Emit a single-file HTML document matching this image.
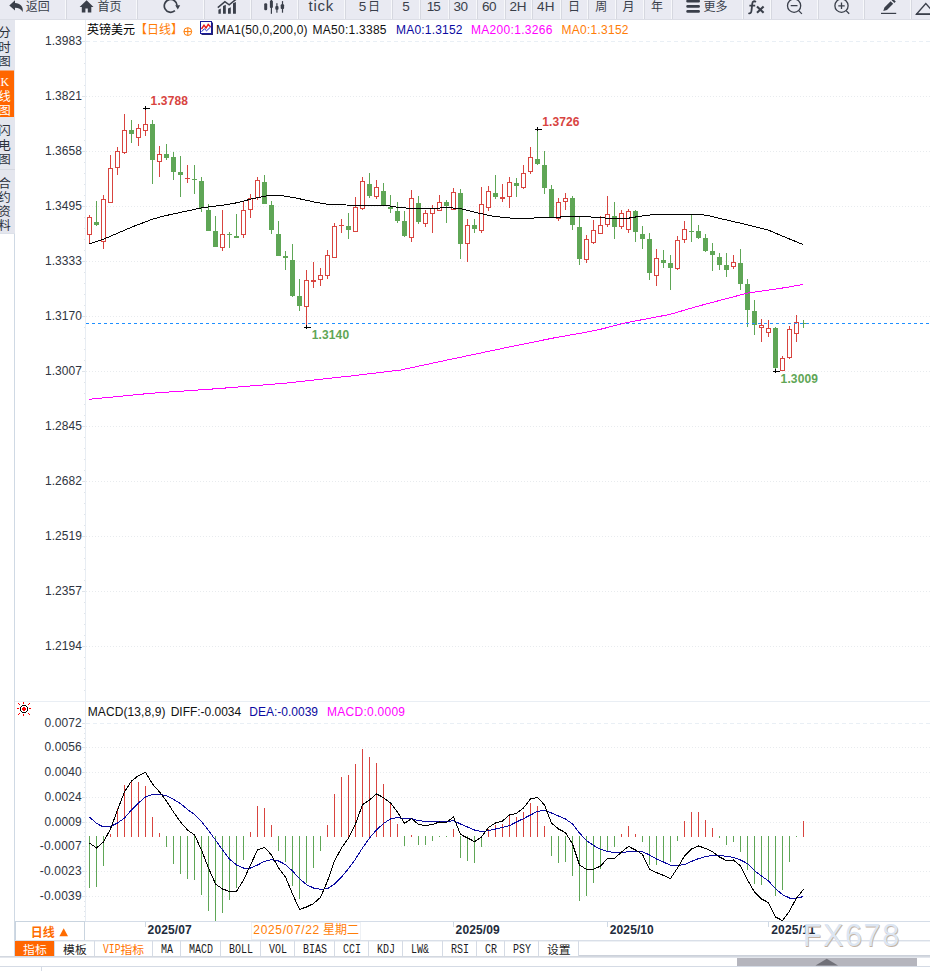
<!DOCTYPE html>
<html lang="zh"><head><meta charset="utf-8"><title>GBPUSD</title>
<style>html,body{margin:0;padding:0;background:#fff;overflow:hidden}svg{display:block}</style>
</head><body>
<svg width="930" height="971" viewBox="0 0 930 971" font-family="'Liberation Sans', sans-serif">
<rect width="930" height="971" fill="#fff"/>
<g shape-rendering="crispEdges"><line x1="86" y1="41.5" x2="930" y2="41.5" stroke="#e9eff5" stroke-dasharray="4 3"/><line x1="86" y1="96.5" x2="930" y2="96.5" stroke="#e8ebee" stroke-dasharray="1 2"/><line x1="86" y1="151.5" x2="930" y2="151.5" stroke="#e8ebee" stroke-dasharray="1 2"/><line x1="86" y1="206.5" x2="930" y2="206.5" stroke="#e8ebee" stroke-dasharray="1 2"/><line x1="86" y1="261.5" x2="930" y2="261.5" stroke="#e8ebee" stroke-dasharray="1 2"/><line x1="86" y1="316.5" x2="930" y2="316.5" stroke="#e8ebee" stroke-dasharray="1 2"/><line x1="86" y1="371.5" x2="930" y2="371.5" stroke="#e8ebee" stroke-dasharray="1 2"/><line x1="86" y1="426.5" x2="930" y2="426.5" stroke="#e8ebee" stroke-dasharray="1 2"/><line x1="86" y1="481.5" x2="930" y2="481.5" stroke="#e8ebee" stroke-dasharray="1 2"/><line x1="86" y1="536.5" x2="930" y2="536.5" stroke="#e8ebee" stroke-dasharray="1 2"/><line x1="86" y1="591.5" x2="930" y2="591.5" stroke="#e8ebee" stroke-dasharray="1 2"/><line x1="86" y1="646.5" x2="930" y2="646.5" stroke="#e8ebee" stroke-dasharray="1 2"/><line x1="86" y1="723.5" x2="930" y2="723.5" stroke="#e9eff5" stroke-dasharray="4 3"/><line x1="86" y1="747.5" x2="930" y2="747.5" stroke="#e8ebee" stroke-dasharray="1 2"/><line x1="86" y1="772.5" x2="930" y2="772.5" stroke="#e8ebee" stroke-dasharray="1 2"/><line x1="86" y1="797.5" x2="930" y2="797.5" stroke="#e8ebee" stroke-dasharray="1 2"/><line x1="86" y1="822.5" x2="930" y2="822.5" stroke="#e8ebee" stroke-dasharray="1 2"/><line x1="86" y1="846.5" x2="930" y2="846.5" stroke="#e8ebee" stroke-dasharray="1 2"/><line x1="86" y1="871.5" x2="930" y2="871.5" stroke="#e8ebee" stroke-dasharray="1 2"/><line x1="86" y1="896.5" x2="930" y2="896.5" stroke="#e8ebee" stroke-dasharray="1 2"/></g>
<g shape-rendering="crispEdges"><line x1="14.5" y1="234" x2="14.5" y2="957" stroke="#cfd9e4"/><line x1="85.5" y1="19" x2="85.5" y2="921" stroke="#e8edf3"/><line x1="15" y1="701.5" x2="930" y2="701.5" stroke="#e9eef4"/><line x1="15" y1="921.5" x2="930" y2="921.5" stroke="#d5dde8"/><line x1="82" y1="41.5" x2="85" y2="41.5" stroke="#dfe4ea"/><line x1="84" y1="52.5" x2="85" y2="52.5" stroke="#dfe4ea"/><line x1="84" y1="63.5" x2="85" y2="63.5" stroke="#dfe4ea"/><line x1="84" y1="74.5" x2="85" y2="74.5" stroke="#dfe4ea"/><line x1="84" y1="85.5" x2="85" y2="85.5" stroke="#dfe4ea"/><line x1="82" y1="96.5" x2="85" y2="96.5" stroke="#dfe4ea"/><line x1="84" y1="107.5" x2="85" y2="107.5" stroke="#dfe4ea"/><line x1="84" y1="118.5" x2="85" y2="118.5" stroke="#dfe4ea"/><line x1="84" y1="129.5" x2="85" y2="129.5" stroke="#dfe4ea"/><line x1="84" y1="140.5" x2="85" y2="140.5" stroke="#dfe4ea"/><line x1="82" y1="151.5" x2="85" y2="151.5" stroke="#dfe4ea"/><line x1="84" y1="162.5" x2="85" y2="162.5" stroke="#dfe4ea"/><line x1="84" y1="173.5" x2="85" y2="173.5" stroke="#dfe4ea"/><line x1="84" y1="184.5" x2="85" y2="184.5" stroke="#dfe4ea"/><line x1="84" y1="195.5" x2="85" y2="195.5" stroke="#dfe4ea"/><line x1="82" y1="206.5" x2="85" y2="206.5" stroke="#dfe4ea"/><line x1="84" y1="217.5" x2="85" y2="217.5" stroke="#dfe4ea"/><line x1="84" y1="228.5" x2="85" y2="228.5" stroke="#dfe4ea"/><line x1="84" y1="239.5" x2="85" y2="239.5" stroke="#dfe4ea"/><line x1="84" y1="250.5" x2="85" y2="250.5" stroke="#dfe4ea"/><line x1="82" y1="261.5" x2="85" y2="261.5" stroke="#dfe4ea"/><line x1="84" y1="272.5" x2="85" y2="272.5" stroke="#dfe4ea"/><line x1="84" y1="283.5" x2="85" y2="283.5" stroke="#dfe4ea"/><line x1="84" y1="294.5" x2="85" y2="294.5" stroke="#dfe4ea"/><line x1="84" y1="305.5" x2="85" y2="305.5" stroke="#dfe4ea"/><line x1="82" y1="316.5" x2="85" y2="316.5" stroke="#dfe4ea"/><line x1="84" y1="327.5" x2="85" y2="327.5" stroke="#dfe4ea"/><line x1="84" y1="338.5" x2="85" y2="338.5" stroke="#dfe4ea"/><line x1="84" y1="349.5" x2="85" y2="349.5" stroke="#dfe4ea"/><line x1="84" y1="360.5" x2="85" y2="360.5" stroke="#dfe4ea"/><line x1="82" y1="371.5" x2="85" y2="371.5" stroke="#dfe4ea"/><line x1="84" y1="382.5" x2="85" y2="382.5" stroke="#dfe4ea"/><line x1="84" y1="393.5" x2="85" y2="393.5" stroke="#dfe4ea"/><line x1="84" y1="404.5" x2="85" y2="404.5" stroke="#dfe4ea"/><line x1="84" y1="415.5" x2="85" y2="415.5" stroke="#dfe4ea"/><line x1="82" y1="426.5" x2="85" y2="426.5" stroke="#dfe4ea"/><line x1="84" y1="437.5" x2="85" y2="437.5" stroke="#dfe4ea"/><line x1="84" y1="448.5" x2="85" y2="448.5" stroke="#dfe4ea"/><line x1="84" y1="459.5" x2="85" y2="459.5" stroke="#dfe4ea"/><line x1="84" y1="470.5" x2="85" y2="470.5" stroke="#dfe4ea"/><line x1="82" y1="481.5" x2="85" y2="481.5" stroke="#dfe4ea"/><line x1="84" y1="492.5" x2="85" y2="492.5" stroke="#dfe4ea"/><line x1="84" y1="503.5" x2="85" y2="503.5" stroke="#dfe4ea"/><line x1="84" y1="514.5" x2="85" y2="514.5" stroke="#dfe4ea"/><line x1="84" y1="525.5" x2="85" y2="525.5" stroke="#dfe4ea"/><line x1="82" y1="536.5" x2="85" y2="536.5" stroke="#dfe4ea"/><line x1="84" y1="547.5" x2="85" y2="547.5" stroke="#dfe4ea"/><line x1="84" y1="558.5" x2="85" y2="558.5" stroke="#dfe4ea"/><line x1="84" y1="569.5" x2="85" y2="569.5" stroke="#dfe4ea"/><line x1="84" y1="580.5" x2="85" y2="580.5" stroke="#dfe4ea"/><line x1="82" y1="591.5" x2="85" y2="591.5" stroke="#dfe4ea"/><line x1="84" y1="602.5" x2="85" y2="602.5" stroke="#dfe4ea"/><line x1="84" y1="613.5" x2="85" y2="613.5" stroke="#dfe4ea"/><line x1="84" y1="624.5" x2="85" y2="624.5" stroke="#dfe4ea"/><line x1="84" y1="635.5" x2="85" y2="635.5" stroke="#dfe4ea"/><line x1="82" y1="646.5" x2="85" y2="646.5" stroke="#dfe4ea"/><line x1="84" y1="657.5" x2="85" y2="657.5" stroke="#dfe4ea"/><line x1="84" y1="668.5" x2="85" y2="668.5" stroke="#dfe4ea"/><line x1="84" y1="679.5" x2="85" y2="679.5" stroke="#dfe4ea"/><line x1="84" y1="690.5" x2="85" y2="690.5" stroke="#dfe4ea"/><line x1="82" y1="723.5" x2="85" y2="723.5" stroke="#dfe4ea"/><line x1="84" y1="728.5" x2="85" y2="728.5" stroke="#dfe4ea"/><line x1="84" y1="733.5" x2="85" y2="733.5" stroke="#dfe4ea"/><line x1="84" y1="738.5" x2="85" y2="738.5" stroke="#dfe4ea"/><line x1="84" y1="742.5" x2="85" y2="742.5" stroke="#dfe4ea"/><line x1="82" y1="747.5" x2="85" y2="747.5" stroke="#dfe4ea"/><line x1="84" y1="752.5" x2="85" y2="752.5" stroke="#dfe4ea"/><line x1="84" y1="757.5" x2="85" y2="757.5" stroke="#dfe4ea"/><line x1="84" y1="762.5" x2="85" y2="762.5" stroke="#dfe4ea"/><line x1="84" y1="767.5" x2="85" y2="767.5" stroke="#dfe4ea"/><line x1="82" y1="772.5" x2="85" y2="772.5" stroke="#dfe4ea"/><line x1="84" y1="777.5" x2="85" y2="777.5" stroke="#dfe4ea"/><line x1="84" y1="782.5" x2="85" y2="782.5" stroke="#dfe4ea"/><line x1="84" y1="787.5" x2="85" y2="787.5" stroke="#dfe4ea"/><line x1="84" y1="792.5" x2="85" y2="792.5" stroke="#dfe4ea"/><line x1="82" y1="797.5" x2="85" y2="797.5" stroke="#dfe4ea"/><line x1="84" y1="802.5" x2="85" y2="802.5" stroke="#dfe4ea"/><line x1="84" y1="807.5" x2="85" y2="807.5" stroke="#dfe4ea"/><line x1="84" y1="812.5" x2="85" y2="812.5" stroke="#dfe4ea"/><line x1="84" y1="817.5" x2="85" y2="817.5" stroke="#dfe4ea"/><line x1="82" y1="822.5" x2="85" y2="822.5" stroke="#dfe4ea"/><line x1="84" y1="827.5" x2="85" y2="827.5" stroke="#dfe4ea"/><line x1="84" y1="832.5" x2="85" y2="832.5" stroke="#dfe4ea"/><line x1="84" y1="836.5" x2="85" y2="836.5" stroke="#dfe4ea"/><line x1="84" y1="841.5" x2="85" y2="841.5" stroke="#dfe4ea"/><line x1="82" y1="846.5" x2="85" y2="846.5" stroke="#dfe4ea"/><line x1="84" y1="851.5" x2="85" y2="851.5" stroke="#dfe4ea"/><line x1="84" y1="856.5" x2="85" y2="856.5" stroke="#dfe4ea"/><line x1="84" y1="861.5" x2="85" y2="861.5" stroke="#dfe4ea"/><line x1="84" y1="866.5" x2="85" y2="866.5" stroke="#dfe4ea"/><line x1="82" y1="871.5" x2="85" y2="871.5" stroke="#dfe4ea"/><line x1="84" y1="876.5" x2="85" y2="876.5" stroke="#dfe4ea"/><line x1="84" y1="881.5" x2="85" y2="881.5" stroke="#dfe4ea"/><line x1="84" y1="886.5" x2="85" y2="886.5" stroke="#dfe4ea"/><line x1="84" y1="891.5" x2="85" y2="891.5" stroke="#dfe4ea"/><line x1="82" y1="896.5" x2="85" y2="896.5" stroke="#dfe4ea"/><line x1="84" y1="901.5" x2="85" y2="901.5" stroke="#dfe4ea"/><line x1="84" y1="906.5" x2="85" y2="906.5" stroke="#dfe4ea"/><line x1="84" y1="911.5" x2="85" y2="911.5" stroke="#dfe4ea"/><line x1="84" y1="916.5" x2="85" y2="916.5" stroke="#dfe4ea"/></g>
<g shape-rendering="crispEdges"><rect x="89" y="215" width="1" height="29" fill="#d8443f"/><rect x="87.5" y="217.5" width="4" height="17" fill="#fff" stroke="#d8443f"/><rect x="96" y="201" width="1" height="25" fill="#5fa656"/><rect x="94" y="222" width="5" height="3" fill="#5fa656"/><rect x="103" y="195" width="1" height="54" fill="#d8443f"/><rect x="101.5" y="199.5" width="4" height="42" fill="#fff" stroke="#d8443f"/><rect x="110" y="155" width="1" height="48" fill="#d8443f"/><rect x="108.5" y="168.5" width="4" height="34" fill="#fff" stroke="#d8443f"/><rect x="117" y="147" width="1" height="28" fill="#d8443f"/><rect x="115.5" y="151.5" width="4" height="16" fill="#fff" stroke="#d8443f"/><rect x="124" y="114" width="1" height="40" fill="#d8443f"/><rect x="122.5" y="130.5" width="4" height="22" fill="#fff" stroke="#d8443f"/><rect x="131" y="120" width="1" height="23" fill="#5fa656"/><rect x="129" y="130" width="5" height="4" fill="#5fa656"/><rect x="138" y="124" width="1" height="22" fill="#d8443f"/><rect x="136.5" y="128.5" width="4" height="9" fill="#fff" stroke="#d8443f"/><rect x="145" y="108" width="1" height="28" fill="#d8443f"/><rect x="143.5" y="124.5" width="4" height="6" fill="#fff" stroke="#d8443f"/><rect x="152" y="120" width="1" height="64" fill="#5fa656"/><rect x="150" y="124" width="5" height="36" fill="#5fa656"/><rect x="159" y="146" width="1" height="31" fill="#d8443f"/><rect x="157.5" y="154.5" width="4" height="7" fill="#fff" stroke="#d8443f"/><rect x="166" y="144" width="1" height="16" fill="#5fa656"/><rect x="164" y="154" width="5" height="4" fill="#5fa656"/><rect x="173" y="152" width="1" height="28" fill="#5fa656"/><rect x="171" y="157" width="5" height="15" fill="#5fa656"/><rect x="180" y="156" width="1" height="41" fill="#5fa656"/><rect x="178" y="172" width="5" height="3" fill="#5fa656"/><rect x="187" y="165" width="1" height="18" fill="#d8443f"/><rect x="185" y="178" width="5" height="1" fill="#d8443f"/><rect x="194" y="165" width="1" height="29" fill="#5fa656"/><rect x="192" y="179" width="5" height="1" fill="#5fa656"/><rect x="201" y="177" width="1" height="35" fill="#5fa656"/><rect x="199" y="181" width="5" height="27" fill="#5fa656"/><rect x="208" y="204" width="1" height="27" fill="#5fa656"/><rect x="206" y="210" width="5" height="21" fill="#5fa656"/><rect x="215" y="216" width="1" height="31" fill="#5fa656"/><rect x="213" y="231" width="5" height="16" fill="#5fa656"/><rect x="222" y="210" width="1" height="41" fill="#d8443f"/><rect x="220.5" y="234.5" width="4" height="13" fill="#fff" stroke="#d8443f"/><rect x="229" y="232" width="1" height="16" fill="#5fa656"/><rect x="227" y="234" width="5" height="1" fill="#5fa656"/><rect x="236" y="214" width="1" height="24" fill="#5fa656"/><rect x="234" y="236" width="5" height="2" fill="#5fa656"/><rect x="243" y="202" width="1" height="36" fill="#d8443f"/><rect x="241.5" y="210.5" width="4" height="24" fill="#fff" stroke="#d8443f"/><rect x="250" y="194" width="1" height="24" fill="#d8443f"/><rect x="248.5" y="198.5" width="4" height="11" fill="#fff" stroke="#d8443f"/><rect x="257" y="177" width="1" height="23" fill="#d8443f"/><rect x="255.5" y="180.5" width="4" height="17" fill="#fff" stroke="#d8443f"/><rect x="264" y="175" width="1" height="29" fill="#5fa656"/><rect x="262" y="182" width="5" height="22" fill="#5fa656"/><rect x="271" y="201" width="1" height="33" fill="#5fa656"/><rect x="269" y="205" width="5" height="25" fill="#5fa656"/><rect x="278" y="221" width="1" height="35" fill="#5fa656"/><rect x="276" y="234" width="5" height="22" fill="#5fa656"/><rect x="285" y="251" width="1" height="19" fill="#5fa656"/><rect x="283" y="256" width="5" height="2" fill="#5fa656"/><rect x="292" y="244" width="1" height="53" fill="#5fa656"/><rect x="290" y="260" width="5" height="36" fill="#5fa656"/><rect x="299" y="279" width="1" height="32" fill="#5fa656"/><rect x="297" y="296" width="5" height="10" fill="#5fa656"/><rect x="306" y="270" width="1" height="57" fill="#d8443f"/><rect x="304.5" y="280.5" width="4" height="26" fill="#fff" stroke="#d8443f"/><rect x="313" y="262" width="1" height="26" fill="#d8443f"/><rect x="311.5" y="280.5" width="4" height="1" fill="#fff" stroke="#d8443f"/><rect x="320" y="268" width="1" height="18" fill="#d8443f"/><rect x="318.5" y="275.5" width="4" height="4" fill="#fff" stroke="#d8443f"/><rect x="327" y="250" width="1" height="29" fill="#d8443f"/><rect x="325.5" y="255.5" width="4" height="20" fill="#fff" stroke="#d8443f"/><rect x="334" y="223" width="1" height="35" fill="#d8443f"/><rect x="332.5" y="226.5" width="4" height="31" fill="#fff" stroke="#d8443f"/><rect x="341" y="219" width="1" height="14" fill="#d8443f"/><rect x="339" y="225" width="5" height="1" fill="#d8443f"/><rect x="348" y="213" width="1" height="26" fill="#5fa656"/><rect x="346" y="226" width="5" height="4" fill="#5fa656"/><rect x="355" y="197" width="1" height="35" fill="#d8443f"/><rect x="353.5" y="207.5" width="4" height="24" fill="#fff" stroke="#d8443f"/><rect x="362" y="177" width="1" height="33" fill="#d8443f"/><rect x="360.5" y="181.5" width="4" height="27" fill="#fff" stroke="#d8443f"/><rect x="369" y="173" width="1" height="25" fill="#5fa656"/><rect x="367" y="184" width="5" height="12" fill="#5fa656"/><rect x="376" y="180" width="1" height="19" fill="#d8443f"/><rect x="374.5" y="187.5" width="4" height="9" fill="#fff" stroke="#d8443f"/><rect x="383" y="183" width="1" height="22" fill="#5fa656"/><rect x="381" y="191" width="5" height="14" fill="#5fa656"/><rect x="390" y="195" width="1" height="18" fill="#5fa656"/><rect x="388" y="207" width="5" height="2" fill="#5fa656"/><rect x="397" y="202" width="1" height="21" fill="#5fa656"/><rect x="395" y="211" width="5" height="10" fill="#5fa656"/><rect x="404" y="211" width="1" height="26" fill="#5fa656"/><rect x="402" y="221" width="5" height="15" fill="#5fa656"/><rect x="411" y="190" width="1" height="52" fill="#d8443f"/><rect x="409.5" y="198.5" width="4" height="39" fill="#fff" stroke="#d8443f"/><rect x="418" y="196" width="1" height="28" fill="#5fa656"/><rect x="416" y="203" width="5" height="19" fill="#5fa656"/><rect x="425" y="210" width="1" height="17" fill="#d8443f"/><rect x="423.5" y="213.5" width="4" height="10" fill="#fff" stroke="#d8443f"/><rect x="432" y="205" width="1" height="28" fill="#d8443f"/><rect x="430.5" y="208.5" width="4" height="5" fill="#fff" stroke="#d8443f"/><rect x="439" y="195" width="1" height="16" fill="#d8443f"/><rect x="437.5" y="202.5" width="4" height="8" fill="#fff" stroke="#d8443f"/><rect x="446" y="200" width="1" height="23" fill="#5fa656"/><rect x="444" y="202" width="5" height="4" fill="#5fa656"/><rect x="453" y="188" width="1" height="22" fill="#d8443f"/><rect x="451.5" y="192.5" width="4" height="17" fill="#fff" stroke="#d8443f"/><rect x="460" y="189" width="1" height="70" fill="#5fa656"/><rect x="458" y="193" width="5" height="51" fill="#5fa656"/><rect x="467" y="219" width="1" height="43" fill="#d8443f"/><rect x="465.5" y="225.5" width="4" height="18" fill="#fff" stroke="#d8443f"/><rect x="474" y="219" width="1" height="14" fill="#5fa656"/><rect x="472" y="225" width="5" height="4" fill="#5fa656"/><rect x="481" y="187" width="1" height="46" fill="#d8443f"/><rect x="479.5" y="204.5" width="4" height="26" fill="#fff" stroke="#d8443f"/><rect x="488" y="186" width="1" height="25" fill="#d8443f"/><rect x="486.5" y="191.5" width="4" height="16" fill="#fff" stroke="#d8443f"/><rect x="495" y="175" width="1" height="24" fill="#5fa656"/><rect x="493" y="193" width="5" height="4" fill="#5fa656"/><rect x="502" y="184" width="1" height="18" fill="#d8443f"/><rect x="500.5" y="197.5" width="4" height="1" fill="#fff" stroke="#d8443f"/><rect x="509" y="177" width="1" height="31" fill="#d8443f"/><rect x="507.5" y="182.5" width="4" height="14" fill="#fff" stroke="#d8443f"/><rect x="516" y="178" width="1" height="19" fill="#5fa656"/><rect x="514" y="183" width="5" height="3" fill="#5fa656"/><rect x="523" y="165" width="1" height="24" fill="#d8443f"/><rect x="521.5" y="173.5" width="4" height="14" fill="#fff" stroke="#d8443f"/><rect x="530" y="147" width="1" height="27" fill="#d8443f"/><rect x="528.5" y="157.5" width="4" height="14" fill="#fff" stroke="#d8443f"/><rect x="537" y="129" width="1" height="36" fill="#5fa656"/><rect x="535" y="159" width="5" height="5" fill="#5fa656"/><rect x="544" y="151" width="1" height="43" fill="#5fa656"/><rect x="542" y="165" width="5" height="23" fill="#5fa656"/><rect x="551" y="185" width="1" height="33" fill="#5fa656"/><rect x="549" y="189" width="5" height="28" fill="#5fa656"/><rect x="558" y="198" width="1" height="23" fill="#d8443f"/><rect x="556.5" y="202.5" width="4" height="16" fill="#fff" stroke="#d8443f"/><rect x="565" y="193" width="1" height="17" fill="#d8443f"/><rect x="563.5" y="198.5" width="4" height="3" fill="#fff" stroke="#d8443f"/><rect x="572" y="196" width="1" height="34" fill="#5fa656"/><rect x="570" y="198" width="5" height="27" fill="#5fa656"/><rect x="579" y="217" width="1" height="48" fill="#5fa656"/><rect x="577" y="227" width="5" height="32" fill="#5fa656"/><rect x="586" y="235" width="1" height="28" fill="#d8443f"/><rect x="584.5" y="239.5" width="4" height="20" fill="#fff" stroke="#d8443f"/><rect x="593" y="220" width="1" height="24" fill="#d8443f"/><rect x="591.5" y="230.5" width="4" height="12" fill="#fff" stroke="#d8443f"/><rect x="600" y="216" width="1" height="18" fill="#d8443f"/><rect x="598.5" y="225.5" width="4" height="8" fill="#fff" stroke="#d8443f"/><rect x="607" y="196" width="1" height="31" fill="#d8443f"/><rect x="605.5" y="214.5" width="4" height="10" fill="#fff" stroke="#d8443f"/><rect x="614" y="202" width="1" height="37" fill="#5fa656"/><rect x="612" y="216" width="5" height="11" fill="#5fa656"/><rect x="621" y="210" width="1" height="19" fill="#d8443f"/><rect x="619.5" y="213.5" width="4" height="13" fill="#fff" stroke="#d8443f"/><rect x="628" y="209" width="1" height="24" fill="#d8443f"/><rect x="626.5" y="211.5" width="4" height="18" fill="#fff" stroke="#d8443f"/><rect x="635" y="210" width="1" height="32" fill="#5fa656"/><rect x="633" y="211" width="5" height="21" fill="#5fa656"/><rect x="642" y="226" width="1" height="23" fill="#5fa656"/><rect x="640" y="234" width="5" height="5" fill="#5fa656"/><rect x="649" y="233" width="1" height="47" fill="#5fa656"/><rect x="647" y="239" width="5" height="34" fill="#5fa656"/><rect x="656" y="249" width="1" height="37" fill="#d8443f"/><rect x="654.5" y="258.5" width="4" height="17" fill="#fff" stroke="#d8443f"/><rect x="663" y="250" width="1" height="18" fill="#5fa656"/><rect x="661" y="260" width="5" height="3" fill="#5fa656"/><rect x="670" y="255" width="1" height="35" fill="#5fa656"/><rect x="668" y="263" width="5" height="5" fill="#5fa656"/><rect x="677" y="236" width="1" height="34" fill="#d8443f"/><rect x="675.5" y="240.5" width="4" height="28" fill="#fff" stroke="#d8443f"/><rect x="684" y="221" width="1" height="22" fill="#d8443f"/><rect x="682.5" y="229.5" width="4" height="10" fill="#fff" stroke="#d8443f"/><rect x="691" y="215" width="1" height="27" fill="#5fa656"/><rect x="689" y="231" width="5" height="1" fill="#5fa656"/><rect x="698" y="225" width="1" height="14" fill="#5fa656"/><rect x="696" y="231" width="5" height="7" fill="#5fa656"/><rect x="705" y="234" width="1" height="18" fill="#5fa656"/><rect x="703" y="238" width="5" height="13" fill="#5fa656"/><rect x="712" y="243" width="1" height="28" fill="#5fa656"/><rect x="710" y="251" width="5" height="4" fill="#5fa656"/><rect x="719" y="253" width="1" height="17" fill="#5fa656"/><rect x="717" y="257" width="5" height="8" fill="#5fa656"/><rect x="726" y="253" width="1" height="24" fill="#5fa656"/><rect x="724" y="265" width="5" height="5" fill="#5fa656"/><rect x="733" y="255" width="1" height="14" fill="#d8443f"/><rect x="731.5" y="262.5" width="4" height="4" fill="#fff" stroke="#d8443f"/><rect x="740" y="249" width="1" height="41" fill="#5fa656"/><rect x="738" y="263" width="5" height="21" fill="#5fa656"/><rect x="747" y="279" width="1" height="48" fill="#5fa656"/><rect x="745" y="284" width="5" height="26" fill="#5fa656"/><rect x="754" y="300" width="1" height="35" fill="#5fa656"/><rect x="752" y="311" width="5" height="14" fill="#5fa656"/><rect x="761" y="319" width="1" height="23" fill="#d8443f"/><rect x="759.5" y="325.5" width="4" height="2" fill="#fff" stroke="#d8443f"/><rect x="768" y="320" width="1" height="17" fill="#d8443f"/><rect x="766.5" y="328.5" width="4" height="4" fill="#fff" stroke="#d8443f"/><rect x="775" y="327" width="1" height="45" fill="#5fa656"/><rect x="773" y="328" width="5" height="40" fill="#5fa656"/><rect x="782" y="356" width="1" height="15" fill="#d8443f"/><rect x="780.5" y="358.5" width="4" height="12" fill="#fff" stroke="#d8443f"/><rect x="789" y="326" width="1" height="33" fill="#d8443f"/><rect x="787.5" y="329.5" width="4" height="28" fill="#fff" stroke="#d8443f"/><rect x="796" y="315" width="1" height="27" fill="#d8443f"/><rect x="794.5" y="322.5" width="4" height="11" fill="#fff" stroke="#d8443f"/><rect x="803" y="320" width="1" height="8" fill="#5fa656"/><rect x="801" y="323" width="5" height="1" fill="#5fa656"/></g>
<g shape-rendering="crispEdges"><rect x="143" y="108" width="7" height="1" fill="#000"/><rect x="145" y="106" width="1" height="4" fill="#000"/><rect x="535" y="129" width="7" height="1" fill="#000"/><rect x="537" y="127" width="1" height="4" fill="#000"/><rect x="304" y="327" width="7" height="1" fill="#000"/><rect x="306" y="325" width="1" height="4" fill="#000"/><rect x="773" y="371" width="7" height="1" fill="#000"/><rect x="775" y="369" width="1" height="4" fill="#000"/></g>
<line x1="86" y1="323.5" x2="930" y2="323.5" stroke="#1e8fff" stroke-dasharray="3 3" shape-rendering="crispEdges"/>
<polyline fill="none" stroke="#000" stroke-width="1" shape-rendering="crispEdges" points="89,244 104,239 118,233 132,227 153,219 164,216 180,212.5 202,207.8 208.5,206.9 221,205.5 233.4,203.5 244,201 251,199 256,198 268,195.6 282,195.6 296,198 316,202.4 326,204 346,205 366,205.4 386,205.4 396,207 416,209 428,208.6 448,207.6 460,208.6 478,213 494,216.4 514,218.4 533,218.5 536,217.2 560,217.1 564,216.4 589,216.4 592,217.5 604,217.6 607,218.6 626,218.6 638,216.6 654,214.4 700,214.4 710,216 723,219.2 745,224.2 768,230 790,239.2 803,244.5"/>
<polyline fill="none" stroke="#ff00ff" stroke-width="1" shape-rendering="crispEdges" points="89,399.3 150.7,393.3 217,388.7 284,383.3 350.7,376 384,372 400.7,370 450.7,359.3 517.3,345.3 557,337.3 584,332.7 600,329.4 624,323.3 630,322 670,314.4 694,307.3 710,303 748,293 786,287.5 803,284.5"/>
<g shape-rendering="crispEdges"><rect x="89" y="836" width="1" height="52" fill="#5fa656"/><rect x="96" y="836" width="1" height="51" fill="#5fa656"/><rect x="103" y="836" width="1" height="30" fill="#5fa656"/><rect x="110" y="834" width="1" height="3" fill="#d8443f"/><rect x="117" y="808" width="1" height="29" fill="#d8443f"/><rect x="124" y="785" width="1" height="52" fill="#d8443f"/><rect x="131" y="781" width="1" height="56" fill="#d8443f"/><rect x="138" y="782" width="1" height="55" fill="#d8443f"/><rect x="145" y="786" width="1" height="51" fill="#d8443f"/><rect x="152" y="817" width="1" height="20" fill="#d8443f"/><rect x="159" y="833" width="1" height="4" fill="#d8443f"/><rect x="166" y="836" width="1" height="11" fill="#5fa656"/><rect x="173" y="836" width="1" height="28" fill="#5fa656"/><rect x="180" y="836" width="1" height="38" fill="#5fa656"/><rect x="187" y="836" width="1" height="43" fill="#5fa656"/><rect x="194" y="836" width="1" height="44" fill="#5fa656"/><rect x="201" y="836" width="1" height="59" fill="#5fa656"/><rect x="208" y="836" width="1" height="75" fill="#5fa656"/><rect x="215" y="836" width="1" height="85" fill="#5fa656"/><rect x="222" y="836" width="1" height="77" fill="#5fa656"/><rect x="229" y="836" width="1" height="64" fill="#5fa656"/><rect x="236" y="836" width="1" height="52" fill="#5fa656"/><rect x="243" y="836" width="1" height="24" fill="#5fa656"/><rect x="250" y="832" width="1" height="5" fill="#d8443f"/><rect x="257" y="806" width="1" height="31" fill="#d8443f"/><rect x="264" y="808" width="1" height="29" fill="#d8443f"/><rect x="271" y="825" width="1" height="12" fill="#d8443f"/><rect x="278" y="836" width="1" height="15" fill="#5fa656"/><rect x="285" y="836" width="1" height="26" fill="#5fa656"/><rect x="292" y="836" width="1" height="50" fill="#5fa656"/><rect x="299" y="836" width="1" height="63" fill="#5fa656"/><rect x="306" y="836" width="1" height="47" fill="#5fa656"/><rect x="313" y="836" width="1" height="32" fill="#5fa656"/><rect x="320" y="836" width="1" height="15" fill="#5fa656"/><rect x="327" y="825" width="1" height="12" fill="#d8443f"/><rect x="334" y="794" width="1" height="43" fill="#d8443f"/><rect x="341" y="777" width="1" height="60" fill="#d8443f"/><rect x="348" y="775" width="1" height="62" fill="#d8443f"/><rect x="355" y="764" width="1" height="73" fill="#d8443f"/><rect x="362" y="749" width="1" height="88" fill="#d8443f"/><rect x="369" y="757" width="1" height="80" fill="#d8443f"/><rect x="376" y="763" width="1" height="74" fill="#d8443f"/><rect x="383" y="784" width="1" height="53" fill="#d8443f"/><rect x="390" y="803" width="1" height="34" fill="#d8443f"/><rect x="397" y="824" width="1" height="13" fill="#d8443f"/><rect x="404" y="836" width="1" height="10" fill="#5fa656"/><rect x="411" y="835" width="1" height="2" fill="#d8443f"/><rect x="418" y="836" width="1" height="9" fill="#5fa656"/><rect x="425" y="836" width="1" height="9" fill="#5fa656"/><rect x="432" y="836" width="1" height="5" fill="#5fa656"/><rect x="439" y="836" width="1" height="1" fill="#5fa656"/><rect x="446" y="836" width="1" height="1" fill="#5fa656"/><rect x="453" y="829" width="1" height="8" fill="#d8443f"/><rect x="460" y="836" width="1" height="22" fill="#5fa656"/><rect x="467" y="836" width="1" height="25" fill="#5fa656"/><rect x="474" y="836" width="1" height="27" fill="#5fa656"/><rect x="481" y="836" width="1" height="11" fill="#5fa656"/><rect x="488" y="829" width="1" height="8" fill="#d8443f"/><rect x="495" y="825" width="1" height="12" fill="#d8443f"/><rect x="502" y="824" width="1" height="13" fill="#d8443f"/><rect x="509" y="816" width="1" height="21" fill="#d8443f"/><rect x="516" y="817" width="1" height="20" fill="#d8443f"/><rect x="523" y="812" width="1" height="25" fill="#d8443f"/><rect x="530" y="803" width="1" height="34" fill="#d8443f"/><rect x="537" y="806" width="1" height="31" fill="#d8443f"/><rect x="544" y="826" width="1" height="11" fill="#d8443f"/><rect x="551" y="836" width="1" height="20" fill="#5fa656"/><rect x="558" y="836" width="1" height="27" fill="#5fa656"/><rect x="565" y="836" width="1" height="26" fill="#5fa656"/><rect x="572" y="836" width="1" height="40" fill="#5fa656"/><rect x="579" y="836" width="1" height="65" fill="#5fa656"/><rect x="586" y="836" width="1" height="60" fill="#5fa656"/><rect x="593" y="836" width="1" height="47" fill="#5fa656"/><rect x="600" y="836" width="1" height="33" fill="#5fa656"/><rect x="607" y="836" width="1" height="16" fill="#5fa656"/><rect x="614" y="836" width="1" height="11" fill="#5fa656"/><rect x="621" y="834" width="1" height="3" fill="#d8443f"/><rect x="628" y="826" width="1" height="11" fill="#d8443f"/><rect x="635" y="834" width="1" height="3" fill="#d8443f"/><rect x="642" y="836" width="1" height="6" fill="#5fa656"/><rect x="649" y="836" width="1" height="29" fill="#5fa656"/><rect x="656" y="836" width="1" height="29" fill="#5fa656"/><rect x="663" y="836" width="1" height="26" fill="#5fa656"/><rect x="670" y="836" width="1" height="26" fill="#5fa656"/><rect x="677" y="836" width="1" height="5" fill="#5fa656"/><rect x="684" y="821" width="1" height="16" fill="#d8443f"/><rect x="691" y="812" width="1" height="25" fill="#d8443f"/><rect x="698" y="812" width="1" height="25" fill="#d8443f"/><rect x="705" y="820" width="1" height="17" fill="#d8443f"/><rect x="712" y="828" width="1" height="9" fill="#d8443f"/><rect x="719" y="836" width="1" height="2" fill="#5fa656"/><rect x="726" y="836" width="1" height="9" fill="#5fa656"/><rect x="733" y="836" width="1" height="6" fill="#5fa656"/><rect x="740" y="836" width="1" height="16" fill="#5fa656"/><rect x="747" y="836" width="1" height="34" fill="#5fa656"/><rect x="754" y="836" width="1" height="48" fill="#5fa656"/><rect x="761" y="836" width="1" height="49" fill="#5fa656"/><rect x="768" y="836" width="1" height="45" fill="#5fa656"/><rect x="775" y="836" width="1" height="60" fill="#5fa656"/><rect x="782" y="836" width="1" height="54" fill="#5fa656"/><rect x="789" y="836" width="1" height="26" fill="#5fa656"/><rect x="796" y="836" width="1" height="1" fill="#5fa656"/><rect x="803" y="821" width="1" height="16" fill="#d8443f"/></g>
<polyline fill="none" stroke="#0a0aa0" stroke-width="1" shape-rendering="crispEdges" points="89.5,817 96.5,823.4 103.5,827 110.5,826.6 117.5,823 124.5,818 131.5,810 138.5,803 145.5,797 152.5,794.4 159.5,794.4 166.5,795.6 173.5,799.4 180.5,803.6 187.5,809.4 194.5,814.6 201.5,821.4 208.5,830.6 215.5,840 222.5,850 229.5,859 236.5,865 243.5,868 250.5,868 257.5,865 264.5,861.4 271.5,859.6 278.5,861 285.5,864.6 292.5,871 299.5,878.6 306.5,884.6 313.5,888 320.5,889.4 327.5,888.6 334.5,884 341.5,877 348.5,868.6 355.5,859 362.5,848 369.5,838 376.5,830 383.5,823.4 390.5,819 397.5,817.4 404.5,819 411.5,818.6 418.5,820.6 425.5,821.4 432.5,821.5 439.5,821.4 446.5,821.6 453.5,820.6 460.5,824 467.5,827 474.5,830 481.5,831.6 488.5,830.6 495.5,829 502.5,827.4 509.5,825.6 516.5,822 523.5,818.6 530.5,815 537.5,811.4 544.5,810.2 551.5,813 558.5,816 565.5,819 572.5,824 579.5,833 586.5,840.6 593.5,845.4 600.5,849.4 607.5,851.4 614.5,852.6 621.5,852.6 628.5,851.6 635.5,851.4 642.5,851.6 649.5,855 656.5,859 663.5,862 670.5,865.4 677.5,865.4 684.5,864.6 691.5,861.4 698.5,858.6 705.5,856.6 712.5,855.4 719.5,855.4 726.5,856.4 733.5,857.4 740.5,860 747.5,863.6 754.5,870.6 761.5,876 768.5,881 775.5,888.6 782.5,894.6 789.5,898 796.5,898 803.5,896.6"/>
<polyline fill="none" stroke="#000" stroke-width="1" shape-rendering="crispEdges" points="89.5,843 96.5,848 103.5,842 110.5,829 117.5,810 124.5,792 131.5,781 138.5,775.6 145.5,772.4 152.5,784 159.5,792 166.5,801 173.5,812 180.5,822 187.5,830 194.5,835 201.5,850 208.5,868 215.5,884 222.5,889 229.5,891.4 236.5,891.4 243.5,880 250.5,865 257.5,850 264.5,847.4 271.5,855 278.5,868 285.5,877 292.5,894 299.5,909.4 306.5,907 313.5,903.6 320.5,897.4 327.5,881 334.5,861 341.5,848 348.5,838 355.5,824 362.5,804.6 369.5,800 376.5,794 383.5,797.6 390.5,803 397.5,812 404.5,823.4 411.5,818.6 418.5,824.4 425.5,825.6 432.5,824.4 439.5,822 446.5,822.4 453.5,817 460.5,834.4 467.5,838 474.5,841.6 481.5,837 488.5,827.4 495.5,823 502.5,821 509.5,815 516.5,813.4 523.5,808 530.5,799 537.5,797.4 544.5,805 551.5,823 558.5,829 565.5,832.6 572.5,844 579.5,865 586.5,869.4 593.5,869.4 600.5,866 607.5,858.6 614.5,858.6 621.5,852 628.5,846.4 635.5,850 642.5,854.4 649.5,869.4 656.5,872.6 663.5,875.4 670.5,878.6 677.5,868 684.5,856 691.5,849 698.5,846 705.5,848.4 712.5,851.6 719.5,857 726.5,860.6 733.5,860 740.5,866 747.5,880 754.5,892 761.5,899 768.5,902.6 775.5,917 782.5,920.6 789.5,911 796.5,898 803.5,889.4"/>
<g font-size="12" fill="#2f3440"><text x="45" y="45" textLength="36.9">1.3983</text><text x="45" y="100" textLength="36.9">1.3821</text><text x="45" y="155" textLength="36.9">1.3658</text><text x="45" y="210" textLength="36.9">1.3495</text><text x="45" y="265" textLength="36.9">1.3333</text><text x="45" y="320" textLength="36.9">1.3170</text><text x="45" y="375" textLength="36.9">1.3007</text><text x="45" y="430" textLength="36.9">1.2845</text><text x="45" y="485" textLength="36.9">1.2682</text><text x="45" y="540" textLength="36.9">1.2519</text><text x="45" y="595" textLength="36.9">1.2357</text><text x="45" y="650" textLength="36.9">1.2194</text><text x="44.6" y="727.1" textLength="37.2">0.0072</text><text x="44.6" y="751.1" textLength="37.2">0.0056</text><text x="44.6" y="776.1" textLength="37.2">0.0040</text><text x="44.6" y="801.1" textLength="37.2">0.0024</text><text x="44.6" y="826.1" textLength="37.2">0.0009</text><text x="39.8" y="850.1" textLength="41.8">-0.0007</text><text x="39.8" y="875.1" textLength="41.8">-0.0023</text><text x="39.8" y="900.1" textLength="41.8">-0.0039</text></g>
<g font-size="12" font-weight="bold"><text x="150.6" y="105.2" fill="#d8443f" textLength="37.3">1.3788</text><text x="542.2" y="126.2" fill="#d8443f" textLength="37.3">1.3726</text><text x="311.8" y="338.8" fill="#5fa656" textLength="37.3">1.3140</text><text x="780.6" y="383.2" fill="#5fa656" textLength="37.3">1.3009</text></g>
<text x="87" y="33.5" font-family="'Liberation Sans', 'Noto Sans CJK SC', sans-serif" font-size="12" fill="#000">英镑美元</text>
<text x="135" y="33.5" font-family="'Liberation Sans', 'Noto Sans CJK SC', sans-serif" font-size="12" fill="#ff7d06">【日线】</text>
<g stroke="#ff7d06" fill="none" stroke-width="1"><circle cx="187.8" cy="31.6" r="3.9"/><path d="M184 31.6H191.6M187.8 27.8V35.4"/></g>
<g><rect x="201.5" y="22.5" width="11.5" height="12.5" fill="#24246e"/><rect x="200.5" y="21.5" width="11" height="12" fill="#fff" stroke="#1a1a9a"/><polyline points="201.5,29 204,25.2 206,28 208.2,24.4 210.6,27" fill="none" stroke="#e81818" stroke-width="1.4"/><polyline points="201.5,31.8 204.4,28.8 206.6,30.8 210.6,27" fill="none" stroke="#2030c8" stroke-width="1"/></g>
<g font-size="12"><text x="216" y="34" fill="#111" textLength="91.5">MA1(50,0,200,0)</text><text x="312.5" y="34" fill="#111" textLength="74">MA50:1.3385</text><text x="396" y="34" fill="#0a0aa0" textLength="66.5">MA0:1.3152</text><text x="471" y="34" fill="#ff00ff" textLength="81.5">MA200:1.3266</text><text x="561.5" y="34" fill="#ff7d06" textLength="67">MA0:1.3152</text></g>
<g font-size="12"><text x="87.7" y="716.2" fill="#111" textLength="77.8">MACD(13,8,9)</text><text x="170.7" y="716.2" fill="#111" textLength="70.5">DIFF:-0.0034</text><text x="249.3" y="716.2" fill="#0a0aa0" textLength="68.7">DEA:-0.0039</text><text x="327.1" y="716.2" fill="#ff00ff" textLength="77.9">MACD:0.0009</text></g>
<g shape-rendering="crispEdges"><rect x="22" y="705" width="4" height="1" fill="#000"/><rect x="22" y="712" width="4" height="1" fill="#000"/><rect x="20" y="707" width="1" height="4" fill="#000"/><rect x="27" y="707" width="1" height="4" fill="#000"/><rect x="21" y="706" width="1" height="1" fill="#000"/><rect x="26" y="706" width="1" height="1" fill="#000"/><rect x="21" y="711" width="1" height="1" fill="#000"/><rect x="26" y="711" width="1" height="1" fill="#000"/><rect x="23" y="707" width="2" height="4" fill="#f00"/><rect x="22" y="708" width="4" height="2" fill="#f00"/><rect x="23" y="702" width="1" height="2" fill="#f00"/><rect x="23" y="714" width="1" height="2" fill="#f00"/><rect x="17" y="708" width="2" height="1" fill="#f00"/><rect x="29" y="708" width="2" height="1" fill="#f00"/><rect x="18" y="703" width="1" height="1" fill="#f00"/><rect x="19" y="704" width="1" height="1" fill="#f00"/><rect x="29" y="703" width="1" height="1" fill="#f00"/><rect x="28" y="704" width="1" height="1" fill="#f00"/><rect x="19" y="713" width="1" height="1" fill="#f00"/><rect x="18" y="714" width="1" height="1" fill="#f00"/><rect x="28" y="713" width="1" height="1" fill="#f00"/><rect x="29" y="714" width="1" height="1" fill="#f00"/></g>
<rect x="0" y="20" width="15" height="213" fill="#e4e6ee"/><rect x="0" y="233" width="15" height="1" fill="#dde1e9"/>
<rect x="0" y="70.5" width="14" height="46.5" fill="#ff6600"/>
<rect x="0" y="169" width="15" height="1" fill="#d6d9e1"/>
<g font-family="'Liberation Sans', 'Noto Sans CJK SC', sans-serif" font-size="12.5" fill="#2c313b" text-anchor="middle"><text x="4.5" y="37.4">分</text><text x="4.5" y="51.7">时</text><text x="4.5" y="66">图</text></g>
<g font-family="'Liberation Sans', 'Noto Sans CJK SC', sans-serif" font-size="12.5" fill="#fff" text-anchor="middle"><text x="4.5" y="100.8">线</text><text x="4.5" y="115.1">图</text></g>
<text x="4.9" y="85.8" font-family="'Liberation Serif', serif" font-size="12" fill="#fff" text-anchor="middle">K</text>
<g font-family="'Liberation Sans', 'Noto Sans CJK SC', sans-serif" font-size="12.5" fill="#2c313b" text-anchor="middle"><text x="4.5" y="135.3">闪</text><text x="4.5" y="149.7">电</text><text x="4.5" y="164">图</text></g>
<g font-family="'Liberation Sans', 'Noto Sans CJK SC', sans-serif" font-size="12.5" fill="#2c313b" text-anchor="middle"><text x="4.5" y="187.8">合</text><text x="4.5" y="201.7">约</text><text x="4.5" y="215.9">资</text><text x="4.5" y="230.1">料</text></g>
<g shape-rendering="crispEdges"><rect x="0" y="0" width="930" height="19" fill="#e9eaf2"/><rect x="0" y="19" width="930" height="1" fill="#dcdee6"/><rect x="65" y="0" width="1" height="19" fill="#f7f8fb"/><rect x="66" y="0" width="1" height="19" fill="#d6d8e0"/><rect x="136" y="0" width="1" height="19" fill="#f7f8fb"/><rect x="137" y="0" width="1" height="19" fill="#d6d8e0"/><rect x="203" y="0" width="1" height="19" fill="#f7f8fb"/><rect x="204" y="0" width="1" height="19" fill="#d6d8e0"/><rect x="250" y="0" width="1" height="19" fill="#f7f8fb"/><rect x="251" y="0" width="1" height="19" fill="#d6d8e0"/><rect x="297" y="0" width="1" height="19" fill="#f7f8fb"/><rect x="298" y="0" width="1" height="19" fill="#d6d8e0"/><rect x="344" y="0" width="1" height="19" fill="#f7f8fb"/><rect x="345" y="0" width="1" height="19" fill="#d6d8e0"/><rect x="391" y="0" width="1" height="19" fill="#f7f8fb"/><rect x="392" y="0" width="1" height="19" fill="#d6d8e0"/><rect x="419" y="0" width="1" height="19" fill="#f7f8fb"/><rect x="420" y="0" width="1" height="19" fill="#d6d8e0"/><rect x="448" y="0" width="1" height="19" fill="#f7f8fb"/><rect x="449" y="0" width="1" height="19" fill="#d6d8e0"/><rect x="476" y="0" width="1" height="19" fill="#f7f8fb"/><rect x="477" y="0" width="1" height="19" fill="#d6d8e0"/><rect x="504" y="0" width="1" height="19" fill="#f7f8fb"/><rect x="505" y="0" width="1" height="19" fill="#d6d8e0"/><rect x="531" y="0" width="1" height="19" fill="#f7f8fb"/><rect x="532" y="0" width="1" height="19" fill="#d6d8e0"/><rect x="560" y="0" width="1" height="19" fill="#f7f8fb"/><rect x="561" y="0" width="1" height="19" fill="#d6d8e0"/><rect x="587" y="0" width="1" height="19" fill="#f7f8fb"/><rect x="588" y="0" width="1" height="19" fill="#d6d8e0"/><rect x="615" y="0" width="1" height="19" fill="#f7f8fb"/><rect x="616" y="0" width="1" height="19" fill="#d6d8e0"/><rect x="643" y="0" width="1" height="19" fill="#f7f8fb"/><rect x="644" y="0" width="1" height="19" fill="#d6d8e0"/><rect x="671" y="0" width="1" height="19" fill="#f7f8fb"/><rect x="672" y="0" width="1" height="19" fill="#d6d8e0"/><rect x="742" y="0" width="1" height="19" fill="#f7f8fb"/><rect x="743" y="0" width="1" height="19" fill="#d6d8e0"/><rect x="770" y="0" width="1" height="19" fill="#f7f8fb"/><rect x="771" y="0" width="1" height="19" fill="#d6d8e0"/><rect x="817" y="0" width="1" height="19" fill="#f7f8fb"/><rect x="818" y="0" width="1" height="19" fill="#d6d8e0"/><rect x="863" y="0" width="1" height="19" fill="#f7f8fb"/><rect x="864" y="0" width="1" height="19" fill="#d6d8e0"/><rect x="910" y="0" width="1" height="19" fill="#f7f8fb"/><rect x="911" y="0" width="1" height="19" fill="#d6d8e0"/></g>
<path d="M15 .3L9.3 5.4L15 10.5V7.7C18.6 7.7 21 8.7 22.7 11.9C23.7 6.6 20 3.1 15 3.1Z" fill="#3a3f4a"/>
<text x="25.8" y="10.5" font-family="'Liberation Sans', 'Noto Sans CJK SC', sans-serif" font-size="12" fill="#3a3f4a">返回</text>
<path d="M86.6 .3L79.6 6.9H81.8V12.4H85.4V8.6H87.8V12.4H91.3V6.9H93.5Z" fill="#3a3f4a"/>
<text x="97.5" y="10.5" font-family="'Liberation Sans', 'Noto Sans CJK SC', sans-serif" font-size="12" fill="#3a3f4a">首页</text>
<path d="M174.9 10.7A6.4 6.4 0 1 1 177.1 5.6" fill="none" stroke="#3a3f4a" stroke-width="1.7"/><path d="M175.2 5.3H180.2L177.8 9.5Z" fill="#3a3f4a"/>
<path d="M218.4 13.8V9.7L220.8 8.6V13.8ZM223 13.8V5.9L225.8 4.8V13.8ZM228 13.8V8.4L230.8 7.2V13.8ZM233 13.8V3.3L235.9 2V13.8Z" fill="#3a3f4a"/><path d="M217.8 7.6L224.9 1.6L229.2 4.8L235.9 -.6" fill="none" stroke="#3a3f4a" stroke-width="1.5"/>
<g fill="#3a3f4a"><rect x="264.2" y="3.2" width="3" height="7" rx="1.2"/><rect x="269.9" y=".4" width="3" height="7.6" rx="1"/><rect x="270.8" y="-1" width="1.2" height="14.8"/><rect x="275.3" y="5.9" width="3.2" height="3.8" rx="1"/><rect x="276.3" y="3.2" width="1.2" height="9.5"/><rect x="280.7" y="4.3" width="3.4" height="4.8" rx="1"/><rect x="281.9" y="1.1" width="1.2" height="11.6"/></g>
<g font-size="13.5" fill="#3a3f4a"><text x="308.6" y="11.1" font-size="15" textLength="24.7">tick</text><text x="358.7" y="10.8">5</text><text x="402.2" y="10.8">5</text><text x="426.8" y="10.8" textLength="14">15</text><text x="453.6" y="10.8" textLength="14.4">30</text><text x="482" y="10.8" textLength="14.4">60</text><text x="509.5" y="10.8" textLength="17">2H</text><text x="537" y="10.8" textLength="17.4">4H</text></g>
<g font-family="'Liberation Sans', 'Noto Sans CJK SC', sans-serif" font-size="12" fill="#3a3f4a"><text x="367.9" y="10.5">日</text><text x="568.1" y="10.5">日</text><text x="595.2" y="10.5">周</text><text x="622.5" y="10.5">月</text><text x="651" y="10.5">年</text></g>
<g fill="#3a3f4a"><rect x="686.3" y="-.3" width="13.6" height="2.8" rx="1.2"/><rect x="686.3" y="4.9" width="13.6" height="2.8" rx="1.2"/><rect x="686.3" y="9.9" width="13.6" height="2.9" rx="1.2"/></g>
<text x="703.5" y="11.2" font-family="'Liberation Sans', 'Noto Sans CJK SC', sans-serif" font-size="12" fill="#3a3f4a">更多</text>
<path d="M755.9 2C754.4 .7 752.5 1 752.3 3.6L751.5 10.6C751.3 13 750 13.9 748.5 12.9M749.4 5.6H755.2" stroke="#3a3f4a" stroke-width="1.8" fill="none"/><path d="M757 6.4L763.6 12.8M763.6 6.4L757 12.8" stroke="#3a3f4a" stroke-width="2.1" fill="none"/>
<g fill="none" stroke="#3a3f4a" stroke-width="1.3"><circle cx="794.1" cy="5.7" r="6.6"/><path d="M798.7 10.6L801.9 13.9M790.7 5.7H797.5"/><circle cx="841.5" cy="5.7" r="6.6"/><path d="M846.1 10.6L849.2 13.8M838.3 5.8H844.7M841.5 2.6V9"/></g>
<path d="M883.3 10.9L884.4 7.4L890.6 1.2L893.2 3.8L887 10ZM891.6 .2L893 -1.2L895.8 1.6L894.4 3Z" fill="#3a3f4a"/><rect x="881" y="12.8" width="15.2" height="1.2" fill="#3a3f4a"/>
<path d="M916.4 14.2L925.8 3.6L935.2 14.2Z" fill="none" stroke="#3a3f4a" stroke-width="1.3"/><rect x="916" y="13.4" width="14" height="1.6" fill="#3a3f4a"/>
<g shape-rendering="crispEdges"><line x1="145.5" y1="922" x2="145.5" y2="927" stroke="#cfd9e4"/><line x1="251.5" y1="922" x2="251.5" y2="927" stroke="#cfd9e4"/><line x1="453.5" y1="922" x2="453.5" y2="927" stroke="#cfd9e4"/><line x1="607.5" y1="922" x2="607.5" y2="927" stroke="#cfd9e4"/><line x1="768.5" y1="922" x2="768.5" y2="927" stroke="#cfd9e4"/><rect x="15.5" y="921.5" width="69" height="19" fill="#fff" stroke="#c9d4df"/><line x1="15" y1="940.5" x2="930" y2="940.5" stroke="#d9dfe8"/><line x1="54" y1="941.5" x2="930" y2="941.5" stroke="#eef1f5"/><line x1="0" y1="956.5" x2="930" y2="956.5" stroke="#d3d8e0"/><line x1="579" y1="955.5" x2="930" y2="955.5" stroke="#ccd1da"/><rect x="15" y="941" width="39" height="15" fill="#ff6600"/><line x1="54.5" y1="941" x2="54.5" y2="956" stroke="#d5dbe5"/><line x1="94.5" y1="941" x2="94.5" y2="956" stroke="#d5dbe5"/><line x1="152.5" y1="941" x2="152.5" y2="956" stroke="#d5dbe5"/><line x1="180.5" y1="941" x2="180.5" y2="956" stroke="#d5dbe5"/><line x1="220.5" y1="941" x2="220.5" y2="956" stroke="#d5dbe5"/><line x1="260.5" y1="941" x2="260.5" y2="956" stroke="#d5dbe5"/><line x1="294.5" y1="941" x2="294.5" y2="956" stroke="#d5dbe5"/><line x1="334.5" y1="941" x2="334.5" y2="956" stroke="#d5dbe5"/><line x1="368.5" y1="941" x2="368.5" y2="956" stroke="#d5dbe5"/><line x1="402.5" y1="941" x2="402.5" y2="956" stroke="#d5dbe5"/><line x1="442.5" y1="941" x2="442.5" y2="956" stroke="#d5dbe5"/><line x1="476.5" y1="941" x2="476.5" y2="956" stroke="#d5dbe5"/><line x1="504.5" y1="941" x2="504.5" y2="956" stroke="#d5dbe5"/><line x1="538.5" y1="941" x2="538.5" y2="956" stroke="#d5dbe5"/><line x1="578.5" y1="941" x2="578.5" y2="956" stroke="#d5dbe5"/><rect x="251.5" y="922.5" width="109" height="17" fill="#fff" stroke="#eef1f5"/><rect x="0" y="957" width="930" height="1" fill="#e3e6ec"/><rect x="737" y="957.5" width="180" height="8.3" fill="#b5b5bd"/><line x1="0" y1="966.5" x2="930" y2="966.5" stroke="#d5dbe5"/><line x1="41.5" y1="966" x2="41.5" y2="971" stroke="#d5dbe5"/></g>
<path d="M815.5 965.4L826.8 958.8L838 965.4Z" fill="#707078"/>
<text x="30.8" y="936.5" font-family="'Liberation Sans', 'Noto Sans CJK SC', sans-serif" font-size="12" font-weight="bold" fill="#ff6c00">日线</text>
<path d="M59.4 936.2L63.7 928.2L68 936.2Z" fill="#ff6c00"/>
<g font-size="12" font-weight="bold" fill="#222b3c"><text x="147.6" y="934.1" textLength="44">2025/07</text><text x="455.6" y="934.1" textLength="44">2025/09</text><text x="609.8" y="934.1" textLength="44">2025/10</text><text x="771.2" y="934.1" textLength="44">2025/11</text></g>
<text x="253.3" y="934.1" font-size="12" fill="#ff7d06" textLength="66">2025/07/22</text>
<text x="322.9" y="933.9" font-family="'Liberation Sans', 'Noto Sans CJK SC', sans-serif" font-size="12" fill="#ff7d06">星期二</text>
<text x="23.1" y="953.7" font-family="'Liberation Sans', 'Noto Sans CJK SC', sans-serif" font-size="11.8" fill="#fff">指标</text>
<text x="63.1" y="953.7" font-family="'Liberation Sans', 'Noto Sans CJK SC', sans-serif" font-size="11.8" fill="#1c1c24">模板</text>
<text x="120.5" y="953.7" font-family="'Liberation Sans', 'Noto Sans CJK SC', sans-serif" font-size="11.8" fill="#ff7200">指标</text>
<text x="103" y="953" font-family="'Liberation Mono', monospace" font-size="12.6" fill="#ff7200" textLength="17.5" lengthAdjust="spacingAndGlyphs">VIP</text>
<g font-family="'Liberation Mono', monospace" font-size="12.6" fill="#1c1c24"><text x="161" y="953" textLength="12" lengthAdjust="spacingAndGlyphs">MA</text><text x="189" y="953" textLength="24" lengthAdjust="spacingAndGlyphs">MACD</text><text x="229" y="953" textLength="24" lengthAdjust="spacingAndGlyphs">BOLL</text><text x="269" y="953" textLength="18" lengthAdjust="spacingAndGlyphs">VOL</text><text x="303" y="953" textLength="24" lengthAdjust="spacingAndGlyphs">BIAS</text><text x="343" y="953" textLength="18" lengthAdjust="spacingAndGlyphs">CCI</text><text x="377" y="953" textLength="18" lengthAdjust="spacingAndGlyphs">KDJ</text><text x="411" y="953" textLength="18" lengthAdjust="spacingAndGlyphs">LW&amp;</text><text x="451" y="953" textLength="18" lengthAdjust="spacingAndGlyphs">RSI</text><text x="485" y="953" textLength="12" lengthAdjust="spacingAndGlyphs">CR</text><text x="513" y="953" textLength="18" lengthAdjust="spacingAndGlyphs">PSY</text></g>
<text x="547" y="954.3" font-family="'Liberation Sans', 'Noto Sans CJK SC', sans-serif" font-size="11.8" fill="#1c1c24">设置</text>
<g font-size="30.5"><text x="803.5" y="946.6" fill="#c4b2a2" textLength="96.4">FX678</text><text x="802.7" y="945.8" fill="#dce6f3" textLength="96.4">FX678</text></g>
</svg>
</body></html>
